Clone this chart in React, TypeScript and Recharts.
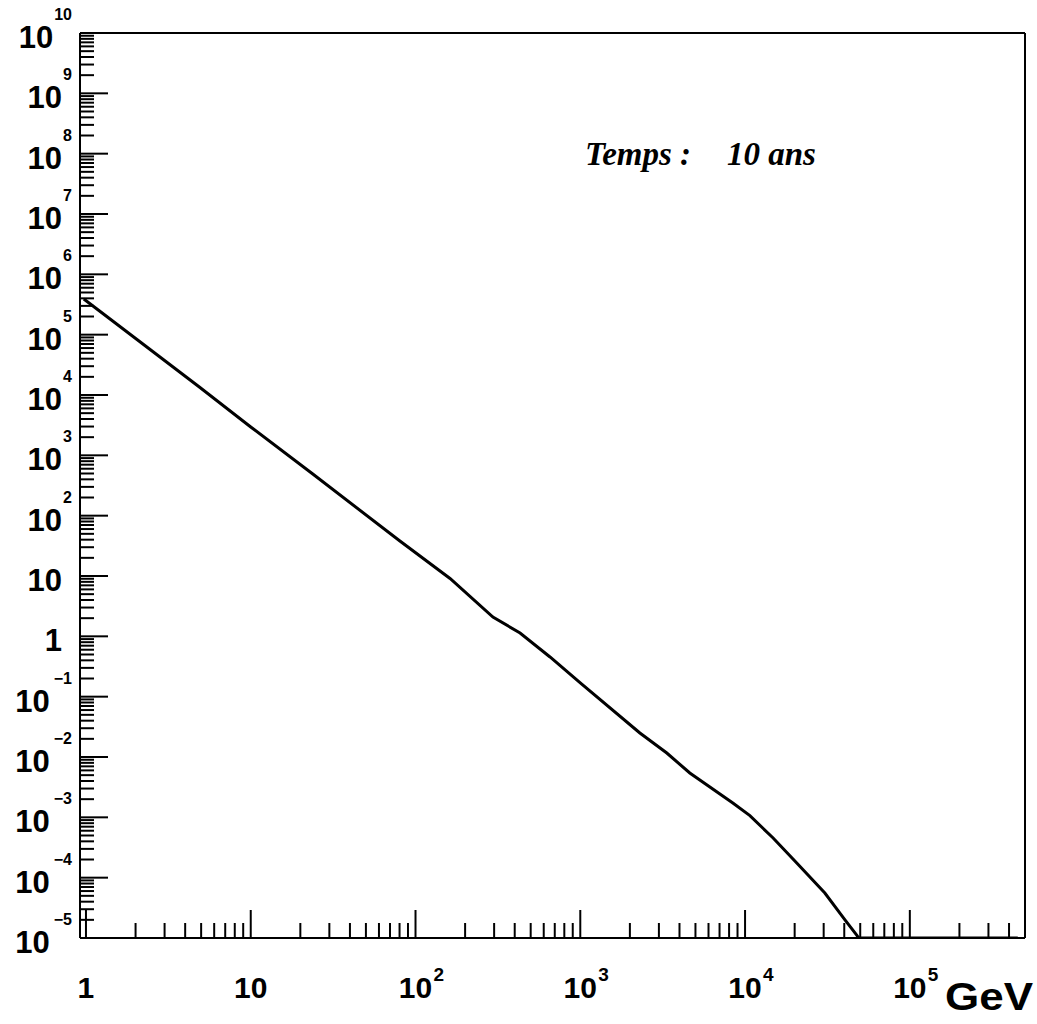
import React from 'react';
import { LineChart, Line, XAxis, YAxis, ReferenceLine, Customized } from 'recharts';

// Energy (GeV) and flux values
const ENERGY_GEV = [0.97, 2.04, 4.92, 10, 23.8, 80.4, 162, 295, 431, 655, 1000, 2300, 3350, 4620, 8430, 10700, 12800, 14800, 20600, 30500, 40400, 47600, 49000, 452000];
const FLUX = [3.9e5, 8.3e4, 1.33e4, 2.95e3, 490, 38, 9.1, 2.09, 1.135, 0.455, 0.169, 0.025, 0.01164, 5.43e-3, 1.73e-3, 1.07e-3, 6.65e-4, 4.55e-4, 1.75e-4, 5.57e-5, 1.99e-5, 1.12e-5, 1e-5, 1e-5];

const X_MAJOR_TICKS = [1, 10, 100, 1000, 10000, 100000];
const X_TICK_BASE = ['1', '10', '10', '10', '10', '10'];
const X_TICK_EXP = ['', '', '2', '3', '4', '5'];

const Y_MAJOR_TICKS = [1e-5, 1e-4, 1e-3, 1e-2, 1e-1, 1, 10, 100, 1e3, 1e4, 1e5, 1e6, 1e7, 1e8, 1e9, 1e10];
const Y_TICK_BASE = ['10', '10', '10', '10', '10', '1', '10', '10', '10', '10', '10', '10', '10', '10', '10', '10'];
const Y_TICK_EXP = ['\u22125', '\u22124', '\u22123', '\u22122', '\u22121', '', '', '2', '3', '4', '5', '6', '7', '8', '9', '10'];

const MINOR_STEPS = [2, 3, 4, 5, 6, 7, 8, 9];

const X_DOMAIN: [number, number] = [0.92, 5e5];
const Y_DOMAIN: [number, number] = [1e-5, 1e10];

const ANNOTATION_LEFT = 'Temps :';
const ANNOTATION_RIGHT = '10 ans';
const X_UNIT = 'GeV';

const DATA = ENERGY_GEV.map((e, i) => ({ e, flux: FLUX[i] }));

function buildTicks(majors: number[], max: number) {
  const out: number[] = [];
  majors.forEach((m) => {
    out.push(m);
    MINOR_STEPS.forEach((k) => {
      const v = m * k;
      if (v < max * 0.999) out.push(v);
    });
  });
  return out.filter((v) => v <= max).sort((a, b) => a - b);
}

const X_TICKS = buildTicks(X_MAJOR_TICKS, X_DOMAIN[1]);
const Y_TICKS = buildTicks(Y_MAJOR_TICKS, Y_DOMAIN[1]);

function majorIndex(v: number, majors: number[]) {
  return majors.findIndex((m) => Math.abs(v / m - 1) < 1e-6);
}

const SANS = '"Liberation Sans", Arial, Helvetica, sans-serif';
const SERIF = '"Liberation Serif", "Times New Roman", serif';

const XTick = (props: any) => {
  const { x, y, payload } = props;
  const idx = majorIndex(payload.value, X_MAJOR_TICKS);
  const major = idx >= 0;
  return (
    <g>
      <line x1={x} y1={y} x2={x} y2={y - (major ? 28 : 15)} stroke="#000" strokeWidth={2} />
      {major && (
        <text x={x} y={y + 60} textAnchor="middle" fontFamily={SANS} fontWeight="bold" fontSize={30} fill="#000">
          {X_TICK_BASE[idx]}
        </text>
      )}
      {major && X_TICK_EXP[idx] && (
        <text x={x + 18} y={y + 43} textAnchor="start" fontFamily={SANS} fontWeight="bold" fontSize={19} fill="#000">
          {X_TICK_EXP[idx]}
        </text>
      )}
    </g>
  );
};

const YTick = (props: any) => {
  const { x, y, payload } = props;
  const idx = majorIndex(payload.value, Y_MAJOR_TICKS);
  const major = idx >= 0;
  const exp = major ? Y_TICK_EXP[idx] : '';
  const neg = exp.startsWith('\u2212');
  return (
    <g>
      <line x1={x} y1={y} x2={x + (major ? 28 : 14)} y2={y} stroke="#000" strokeWidth={2} />
      {major && (
        <text x={exp ? x - 8 : x - 18} y={y + 15} textAnchor="end" fontFamily={SANS} fontWeight="bold" fill="#000">
          <tspan fontSize={31}>{Y_TICK_BASE[idx]}</tspan>
          {exp && (
            <tspan fontSize={16} dy={-28} dx={neg ? 4 : 1}>
              {exp}
            </tspan>
          )}
        </text>
      )}
    </g>
  );
};

const Annotations = () => (
  <g>
    <text x={585} y={165} fontFamily={SERIF} fontStyle="italic" fontWeight="bold" fontSize={33} fill="#000">
      {ANNOTATION_LEFT}
    </text>
    <text x={727} y={165} fontFamily={SERIF} fontStyle="italic" fontWeight="bold" fontSize={33} fill="#000">
      {ANNOTATION_RIGHT}
    </text>
    <text x={945} y={1010} fontFamily={SANS} fontWeight="bold" fontSize={38} fill="#000" textLength={88} lengthAdjust="spacingAndGlyphs">
      {X_UNIT}
    </text>
  </g>
);

export default function App() {
  return (
    <div style={{ position: 'absolute', left: 0, top: 0, width: 1037, height: 1024, background: '#fff' }}>
      <LineChart width={1037} height={1024} data={DATA} margin={{ top: 33, right: 12, bottom: 0, left: 0 }}>
        <XAxis
          dataKey="e"
          type="number"
          scale="log"
          domain={X_DOMAIN}
          allowDataOverflow
          ticks={X_TICKS}
          interval={0}
          tickSize={0}
          tickMargin={0}
          tickLine={false}
          axisLine={{ stroke: '#000', strokeWidth: 2 }}
          height={86}
          tick={<XTick />}
        />
        <YAxis
          type="number"
          scale="log"
          domain={Y_DOMAIN}
          allowDataOverflow
          ticks={Y_TICKS}
          interval={0}
          tickSize={0}
          tickMargin={0}
          tickLine={false}
          axisLine={{ stroke: '#000', strokeWidth: 2 }}
          width={80}
          tick={<YTick />}
        />
        <ReferenceLine y={Y_DOMAIN[1]} stroke="#000" strokeWidth={2} ifOverflow="visible" />
        <ReferenceLine x={X_DOMAIN[1]} stroke="#000" strokeWidth={2} ifOverflow="visible" />
        <Line
          dataKey="flux"
          type="linear"
          stroke="#000"
          strokeWidth={3}
          dot={false}
          isAnimationActive={false}
        />
        <Customized component={Annotations} />
      </LineChart>
    </div>
  );
}
